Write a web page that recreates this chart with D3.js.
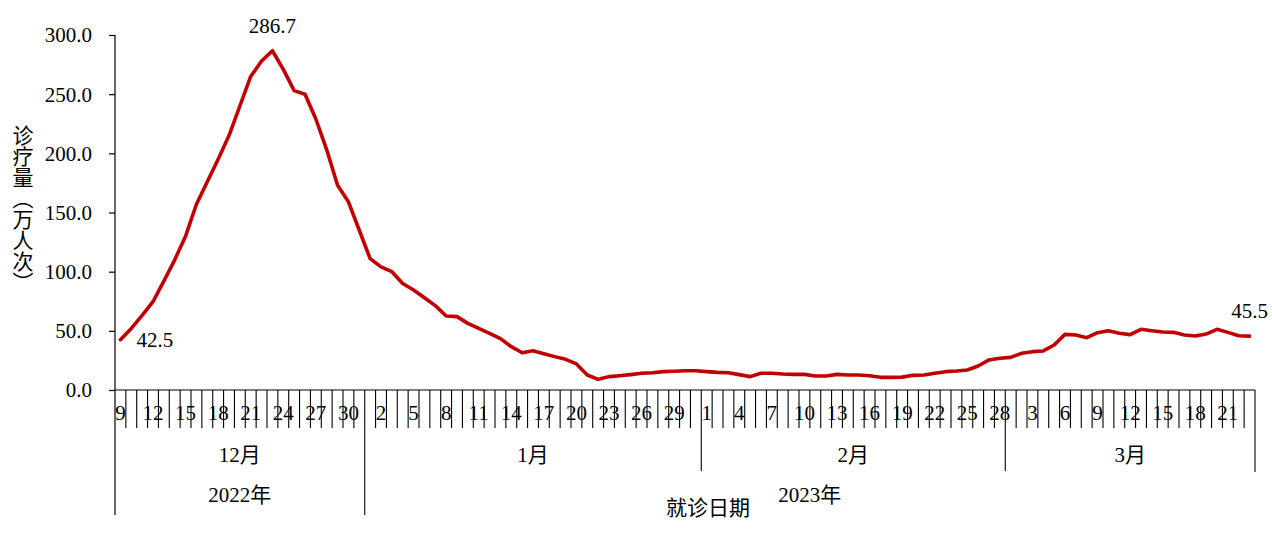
<!DOCTYPE html>
<html>
<head>
<meta charset="utf-8">
<script src="https://cdn.jsdelivr.net/npm/d3@7"></script>
<style>
  html, body { margin: 0; padding: 0; background: #fff; }
  svg { display: block; }
  text { font-family: "Liberation Serif", "Noto Sans CJK SC", serif; fill: #000; }
  .cjk { font-family: "Noto Sans CJK SC", sans-serif; }
</style>
</head>
<body>
<script>
// ---- data ----
const startDate = new Date(2022, 11, 9);
const endDate = new Date(2023, 2, 24); // exclusive
const decValues = [42.5, 52, 63, 74.6, 92, 110, 130, 157, 176, 195, 215, 240, 265, 278, 286.7, 271, 253, 250, 229, 203, 173, 159, 135];
const janValues = [111, 104, 100, 90, 84.5, 78, 71.3, 62.5, 62, 56.3, 52, 47.9, 43.4, 36.6, 31.5, 33.2, 30.7, 28.2, 25.9, 22, 12.7, 9.0, 11.3, 12.1, 13, 14.1, 14.6, 15.5, 15.8, 16.3, 16.3];
const febValues = [15.5, 14.9, 14.6, 13, 11.3, 14.1, 14.1, 13.5, 13.2, 13.2, 11.8, 11.8, 13.2, 12.7, 12.7, 12.0, 10.7, 10.7, 10.9, 12.4, 12.7, 14.1, 15.5, 16, 16.9, 20.3, 25.4, 26.8];
const marValues = [27.6, 31, 32.4, 33, 38, 47, 46.5, 44.2, 48.4, 50.1, 47.9, 46.8, 51.3, 50.1, 49, 48.7, 46.5, 45.6, 47.3, 51.3, 48.7, 45.9, 45.5];
const yTicks = [0, 50, 100, 150, 200, 250, 300];
const monthNames = ["1月", "2月", "3月", "4月", "5月", "6月", "7月", "8月", "9月", "10月", "11月", "12月"];
const yTitle = "诊疗量（万人次）";
const xTitle = "就诊日期";
const labeled = { first: "42.5", peak: "286.7", last: "45.5" };

(function () {
const dates = d3.timeDay.range(startDate, endDate);
const values = [].concat(decValues, janValues, febValues, marValues);
const data = dates.map((d, i) => ({ i, date: d, value: values[i] }));

// ---- layout ----
const W = 1272, H = 540;
const pL = 115, pR = 1255, pT = 35, pB = 390;
const svg = d3.select("body").append("svg").attr("width", W).attr("height", H);

const x = d3.scaleBand().domain(data.map(d => d.i)).range([pL, pR]).padding(0);
const y = d3.scaleLinear().domain([0, 300]).range([pB, pT]);
const cx = i => x(i) + x.bandwidth() / 2;
const FS = 21;

// y axis
const yAxis = d3.axisLeft(y).tickValues(yTicks).tickFormat(d3.format(".1f")).tickSize(6).tickPadding(17);
const ga = svg.append("g").attr("transform", `translate(${pL},0)`).call(yAxis);
ga.select(".domain").remove();
ga.selectAll(".tick line").attr("stroke", "#000").attr("stroke-width", 1.2);
ga.selectAll(".tick text").attr("font-size", FS).attr("font-family", "Liberation Serif").attr("fill", "#000").attr("dy", "0.33em");

// left vertical line (axis + year separator)
svg.append("line").attr("x1", pL).attr("x2", pL).attr("y1", pT).attr("y2", 515).attr("stroke", "#000").attr("stroke-width", 1.2);
// x baseline
svg.append("line").attr("x1", pL).attr("x2", pR).attr("y1", pB).attr("y2", pB).attr("stroke", "#000").attr("stroke-width", 1.2);

// day ticks at band boundaries
const g = svg.append("g");
data.forEach(d => {
  if (d.i === 0) return;
  const isMonth = d.date.getDate() === 1;
  const isYear = isMonth && d.date.getMonth() === 0;
  const y2 = isYear ? 515 : (isMonth ? 471 : 428);
  g.append("line").attr("x1", x(d.i)).attr("x2", x(d.i)).attr("y1", pB).attr("y2", y2).attr("stroke", "#000").attr("stroke-width", 1.1);
});
g.append("line").attr("x1", pR).attr("x2", pR).attr("y1", pB).attr("y2", 472).attr("stroke", "#000").attr("stroke-width", 1.1);

// day labels every 3rd
svg.append("g").selectAll("text").data(data.filter(d => d.i % 3 === 0)).join("text")
  .attr("x", d => cx(d.i)).attr("y", 420).attr("text-anchor", "middle").attr("font-size", FS)
  .text(d => d.date.getDate());

// month groups
const months = d3.groups(data, d => d.date.getFullYear() + "-" + d.date.getMonth());
svg.append("g").selectAll("text").data(months).join("text")
  .attr("x", ([k, arr]) => (x(arr[0].i) + x(arr[arr.length - 1].i) + x.bandwidth()) / 2)
  .attr("y", 462).attr("text-anchor", "middle").attr("font-size", FS)
  .text(([k, arr]) => monthNames[arr[0].date.getMonth()]);

// year groups
const years = d3.groups(data, d => d.date.getFullYear());
svg.append("g").selectAll("text").data(years).join("text")
  .attr("x", ([k, arr]) => (x(arr[0].i) + x(arr[arr.length - 1].i) + x.bandwidth()) / 2)
  .attr("y", 502).attr("text-anchor", "middle").attr("font-size", FS)
  .text(([k]) => k + "年");

// axis titles
svg.append("text").attr("class", "cjk").attr("x", 708).attr("y", 515).attr("text-anchor", "middle").attr("font-size", FS).text(xTitle);
svg.append("text").attr("class", "cjk").attr("x", 23).attr("y", 209)
  .attr("text-anchor", "middle").attr("font-size", 21)
  .style("writing-mode", "vertical-rl")
  .text(yTitle);

// line
const line = d3.line().x(d => cx(d.i)).y(d => y(d.value));
svg.append("path").datum(data).attr("d", line).attr("fill", "none")
  .attr("stroke", "#C00000").attr("stroke-width", 3.6).attr("stroke-linejoin", "round").attr("stroke-linecap", "round");

// data labels
const first = data[0], last = data[data.length - 1];
const peak = data.reduce((a, b) => (b.value > a.value ? b : a));
svg.append("text").attr("x", cx(first.i) + 16).attr("y", y(first.value) + 7).attr("font-size", FS).text(labeled.first);
svg.append("text").attr("x", cx(peak.i)).attr("y", y(peak.value) - 18).attr("text-anchor", "middle").attr("font-size", FS).text(labeled.peak);
svg.append("text").attr("x", cx(last.i)).attr("y", y(last.value) - 18).attr("text-anchor", "middle").attr("font-size", FS).text(labeled.last);
})();
</script>
</body>
</html>
